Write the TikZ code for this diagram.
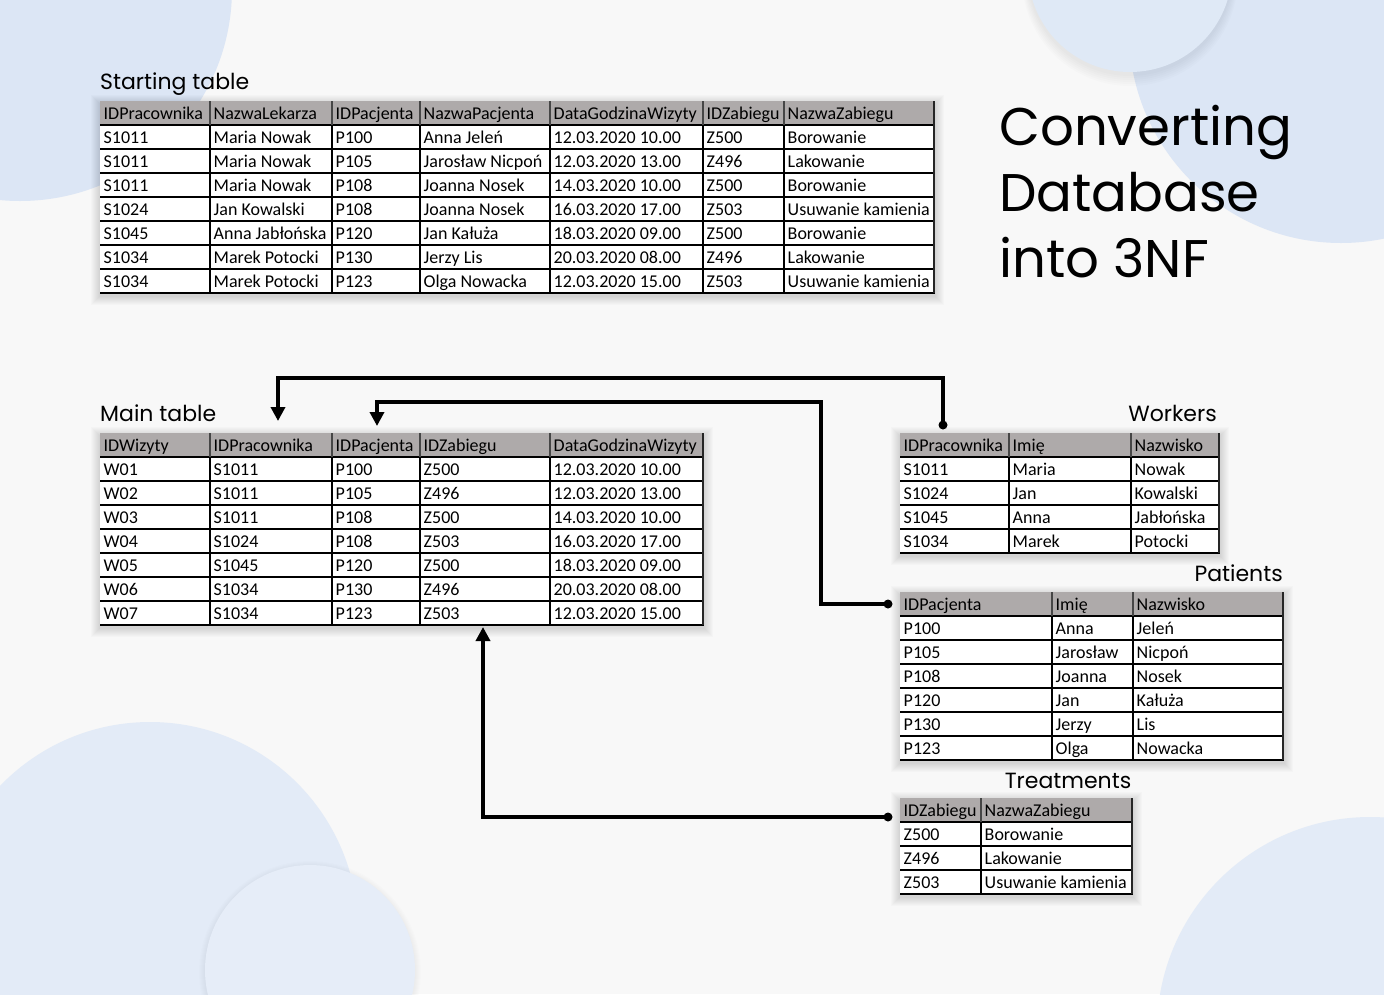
\documentclass[tikz,border=0pt]{standalone}
\usepackage{fontspec}
\setmainfont{Carlito}
\newfontfamily\titlefont{Poppins}
\usetikzlibrary{arrows.meta}
\definecolor{bgc}{RGB}{248,248,248}
\definecolor{circA}{RGB}{220,230,245}
\definecolor{circB}{RGB}{227,235,247}
\definecolor{hdr}{RGB}{174,170,170}
\definecolor{hdrline}{RGB}{70,70,70}

\newcommand\drawdbtable[6]{%
  % #1 name, #2 column x list (n+1 entries), #3 ncols, #4 top, #5 body rows, #6 rows
  \pgfmathsetmacro\tx{{#2}[0]}%
  \pgfmathsetmacro\txe{{#2}[#3]}%
  \pgfmathsetmacro\tyb{#4+24*(#5+1)}%
  \pgfmathtruncatemacro\ncm{#3-1}%
  \foreach \k in {1,...,9} {\fill[black,opacity=0.016] (\tx-\k,#4-\k+3) rectangle (\txe+\k+1,\tyb+\k+3);}
  \fill[hdr] (\tx,#4) rectangle (\txe,#4+24);
  \fill[white] (\tx,#4+24) rectangle (\txe,\tyb);
  \foreach \r in {1,...,#5} {\draw[rowline] (\tx,#4+24*\r) -- (\txe,#4+24*\r);}
  \foreach \c in {1,...,\ncm} {%
    \pgfmathsetmacro\cxx{{#2}[\c]}%
    \draw[rowline] (\cxx,#4+24) -- (\cxx,\tyb);
    \draw[hdrsep] (\cxx,#4) -- (\cxx,#4+24);
  }
  \draw[botline] (\tx,\tyb) -- (\txe+1,\tyb);
  \draw[rightline] (\txe,#4) -- (\txe,\tyb);
  \foreach \row [count=\r from 0] in {#6} {%
    \foreach \cell [count=\c from 0] in \row {%
      \pgfmathsetmacro\cxx{{#2}[\c]}%
      \node[cell] (#1-\r-\c) at (\cxx+3.5,#4+24*\r+18) {\cell};
    }
  }
}

\begin{document}
\begin{tikzpicture}[x=1pt,y=-1pt,
  cell/.style={anchor=base west,inner sep=0pt,font=\fontsize{18}{20}\selectfont,text=black},
  rowline/.style={black,line width=1.1pt},
  hdrsep/.style={hdrline,line width=2pt},
  botline/.style={black,line width=1.6pt},
  rightline/.style={black!85,line width=2.4pt},
  ttl/.style={inner sep=0pt,font=\titlefont\fontsize{22}{26}\selectfont,text=black},
  big/.style={inner sep=0pt,anchor=base west,font=\titlefont\fontsize{53}{66}\selectfont,text=black},
  conn/.style={line width=3.6pt,black},
  tipd/.style={-{Triangle[width=14pt,length=14pt]}},
  dotn/.style={circle,fill=black,inner sep=0pt,minimum size=9pt}]
\fill[bgc] (0,0) rectangle (1384,994);
\useasboundingbox (0,0) rectangle (1384,994);
\begin{scope}
\clip (0,0) rectangle (1384,994);
\fill[circA] (20,-11) circle[radius=212pt];
\fill[circA] (1341,31) circle[radius=212pt];
\foreach \k in {1,...,6} {\fill[black,opacity=0.01] (1130,-28+\k) circle[radius=102pt+\k pt];}
\fill[circA!90!white] (1130,-30) circle[radius=102pt];
\fill[circB] (150,930) circle[radius=208pt];
\foreach \k in {1,...,6} {\fill[black,opacity=0.006] (310,972) circle[radius=105pt+\k pt];}
\fill[circB!90!white] (310,970) circle[radius=105pt];
\fill[circB] (1370,1030) circle[radius=213pt];
\end{scope}

% titles
\node[big] (title1) at (999,145) {Converting};
\node[big] (title2) at (999,211) {Database};
\node[big] (title3) at (999,277) {into 3NF};
\node[ttl,anchor=base west] (tStart) at (100,89) {Starting table};
\node[ttl,anchor=base west] (tMain) at (100,421) {Main table};
\node[ttl,anchor=base east] (tWork) at (1217,421) {Workers};
\node[ttl,anchor=base east] (tPat) at (1283,581) {Patients};
\node[ttl,anchor=base] (tTreat) at (1068,788) {Treatments};

% tables
\drawdbtable{st}{100,210,332,420,550,703,784,934}{7}{101}{7}{%
 {IDPracownika,NazwaLekarza,IDPacjenta,NazwaPacjenta,DataGodzinaWizyty,IDZabiegu,NazwaZabiegu},
 {S1011,Maria Nowak,P100,Anna Jeleń,12.03.2020 10.00,Z500,Borowanie},
 {S1011,Maria Nowak,P105,Jarosław Nicpoń,12.03.2020 13.00,Z496,Lakowanie},
 {S1011,Maria Nowak,P108,Joanna Nosek,14.03.2020 10.00,Z500,Borowanie},
 {S1024,Jan Kowalski,P108,Joanna Nosek,16.03.2020 17.00,Z503,Usuwanie kamienia},
 {S1045,Anna Jabłońska,P120,Jan Kałuża,18.03.2020 09.00,Z500,Borowanie},
 {S1034,Marek Potocki,P130,Jerzy Lis,20.03.2020 08.00,Z496,Lakowanie},
 {S1034,Marek Potocki,P123,Olga Nowacka,12.03.2020 15.00,Z503,Usuwanie kamienia}}

\drawdbtable{mt}{100,210,332,420,550,703}{5}{433}{7}{%
 {IDWizyty,IDPracownika,IDPacjenta,IDZabiegu,DataGodzinaWizyty},
 {W01,S1011,P100,Z500,12.03.2020 10.00},
 {W02,S1011,P105,Z496,12.03.2020 13.00},
 {W03,S1011,P108,Z500,14.03.2020 10.00},
 {W04,S1024,P108,Z503,16.03.2020 17.00},
 {W05,S1045,P120,Z500,18.03.2020 09.00},
 {W06,S1034,P130,Z496,20.03.2020 08.00},
 {W07,S1034,P123,Z503,12.03.2020 15.00}}

\drawdbtable{wk}{900,1009,1131,1219}{3}{433}{4}{%
 {IDPracownika,Imię,Nazwisko},
 {S1011,Maria,Nowak},
 {S1024,Jan,Kowalski},
 {S1045,Anna,Jabłońska},
 {S1034,Marek,Potocki}}

\drawdbtable{pt}{900,1052,1133,1283}{3}{592}{6}{%
 {IDPacjenta,Imię,Nazwisko},
 {P100,Anna,Jeleń},
 {P105,Jarosław,Nicpoń},
 {P108,Joanna,Nosek},
 {P120,Jan,Kałuża},
 {P130,Jerzy,Lis},
 {P123,Olga,Nowacka}}

\drawdbtable{tr}{900,981,1132}{2}{798}{3}{%
 {IDZabiegu,NazwaZabiegu},
 {Z500,Borowanie},
 {Z496,Lakowanie},
 {Z503,Usuwanie kamienia}}

% connectors
\node[dotn] (wdot) at (943,425) {};
\node[dotn] (pdot) at (888,604) {};
\node[dotn] (tdot) at (888,817) {};
\coordinate (tgtW) at (278,421);
\coordinate (tgtP) at (377,426);
\coordinate (tgtT) at (483,627);
\coordinate (bendW) at (943,378);
\coordinate (bendP) at (821,402);
\draw[conn,tipd] (wdot.center) -- (bendW) -| (tgtW);
\draw[conn,tipd] (pdot.center) -| (bendP) -| (tgtP);
\draw[conn,tipd] (tdot.center) -| (tgtT);
\end{tikzpicture}
\end{document}
